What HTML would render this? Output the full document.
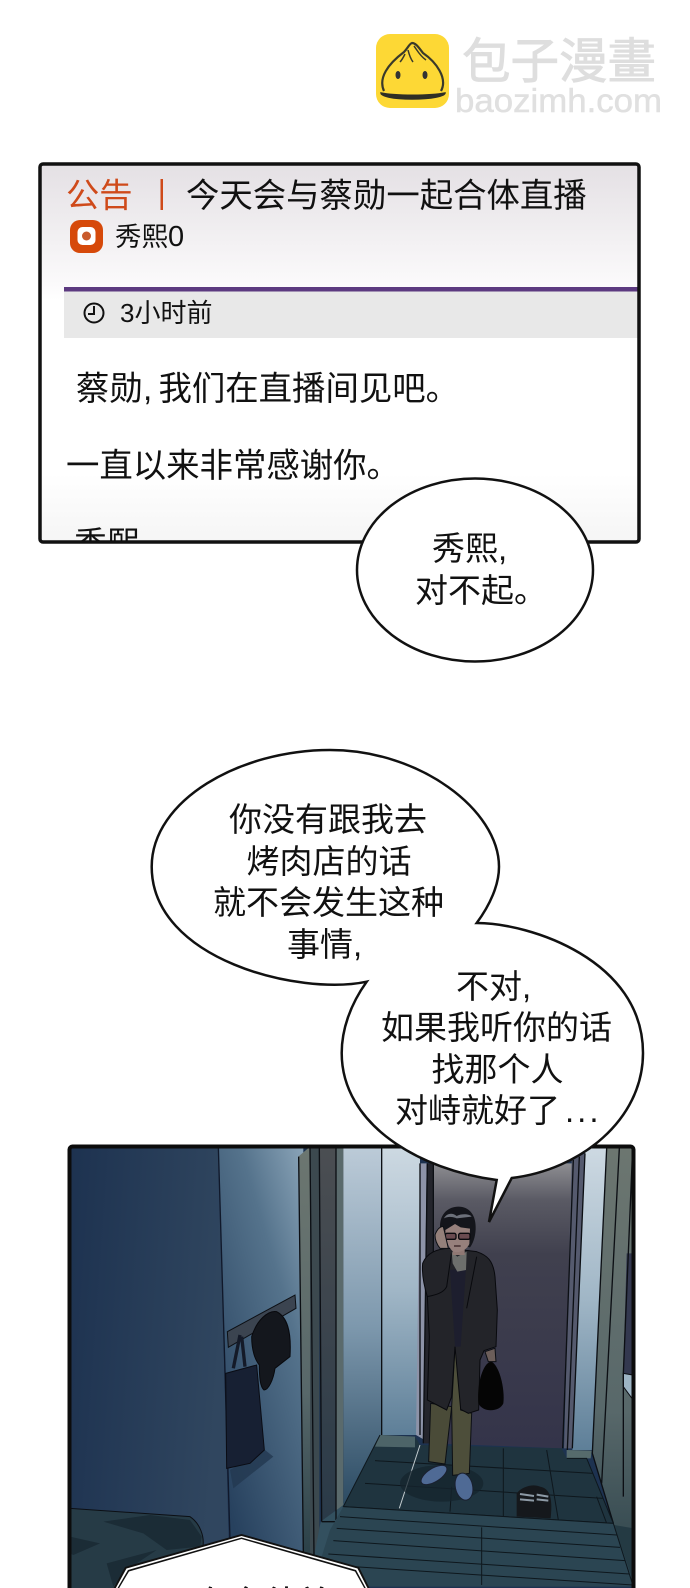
<!DOCTYPE html>
<html><head><meta charset="utf-8"><style>
html,body{margin:0;padding:0;background:#fff;width:690px;height:1588px;overflow:hidden}
svg{display:block}
text{font-family:"Liberation Sans","Noto Sans CJK SC",sans-serif;fill:#111}
</style></head><body>
<svg width="690" height="1588" viewBox="0 0 690 1588" xmlns="http://www.w3.org/2000/svg">
<defs>
<linearGradient id="pg" x1="0" y1="0" x2="0" y2="1"><stop offset="0" stop-color="#e4e0e4"/><stop offset=".32" stop-color="#fbfafb"/><stop offset=".36" stop-color="#fff"/><stop offset=".82" stop-color="#fff"/><stop offset="1" stop-color="#f5f5f5"/></linearGradient>
<linearGradient id="navy" x1="0" y1="0" x2="1" y2="0.2"><stop offset="0" stop-color="#1d3250"/><stop offset="1" stop-color="#30465f"/></linearGradient>
<linearGradient id="w2" x1="1" y1="0" x2="0.3" y2="1"><stop offset="0" stop-color="#8aa4b8"/><stop offset=".35" stop-color="#55738c"/><stop offset="1" stop-color="#27415e"/></linearGradient>
<linearGradient id="w3" x1="0" y1="0" x2="0" y2="1"><stop offset="0" stop-color="#bccbd8"/><stop offset=".5" stop-color="#7d98ad"/><stop offset="1" stop-color="#2b4a62"/></linearGradient>
<linearGradient id="w4" x1="0" y1="0" x2="0" y2="1"><stop offset="0" stop-color="#cdd9e2"/><stop offset=".5" stop-color="#a0b6c6"/><stop offset="1" stop-color="#5e7f98"/></linearGradient>
<linearGradient id="door" x1="0" y1="0" x2="0" y2="1"><stop offset="0" stop-color="#8e8e92"/><stop offset=".13" stop-color="#5a5a64"/><stop offset=".32" stop-color="#40404e"/><stop offset="1" stop-color="#34344a"/></linearGradient>
<linearGradient id="fr" x1="0" y1="0" x2="0" y2="1"><stop offset="0" stop-color="#6c7670"/><stop offset=".6" stop-color="#58686a"/><stop offset="1" stop-color="#2a4048"/></linearGradient>
<linearGradient id="fr2" x1="0" y1="0" x2="0" y2="1"><stop offset="0" stop-color="#4b4e52"/><stop offset="1" stop-color="#2a3a48"/></linearGradient>
<clipPath id="p1"><rect x="40" y="164" width="599" height="378" rx="3"/></clipPath>
<clipPath id="p2"><rect x="70" y="1147" width="563" height="441"/></clipPath>
</defs>

<!-- logo -->
<rect x="376" y="34" width="73" height="74" rx="14" fill="#fdd835"/>
<path d="M384 91C378 78 388 64 404 52C408 48 409 44 412 43C416 43 419 48 423 53C436 62 448 78 441 91" fill="none" stroke="#3a3a2a" stroke-width="2.200"/>
<path d="M408 50C409 54 410 58 413 62M414 46C417 50 420 56 426 60M405 54C403 58 402 60 400 62" fill="none" stroke="#3a3a2a" stroke-width="1.500"/>
<ellipse cx="398" cy="75" rx="2.500" ry="4" fill="#333"/><ellipse cx="425" cy="75" rx="2.500" ry="4" fill="#333"/>
<path d="M381 93C395 96 430 96 445 93C445 96 432 99 412 99C392 99 381 96 381 93Z" fill="#2f2f25" stroke="#2f2f25" stroke-width="1.500"/>
<text x="462" y="78" font-size="48.500" stroke="#dedede" stroke-width=".9" style="fill:#dedede">包子漫畫</text>
<text x="455" y="112" font-size="33" textLength="207" lengthAdjust="spacingAndGlyphs" stroke="#e0e0e0" stroke-width=".5" style="fill:#e0e0e0">baozimh.com</text>

<!-- notice panel -->
<rect x="40" y="164" width="599" height="378" rx="3" fill="url(#pg)"/>
<g clip-path="url(#p1)">
<text x="66" y="207" font-size="33.300" style="fill:#cf4a1a">公告</text>
<rect x="160.500" y="179" width="2.500" height="31" fill="#cf4a1a"/>
<text x="186" y="207" font-size="33.400">今天会与蔡勋一起合体直播</text>
<rect x="70" y="220" width="33" height="33" rx="10" fill="#d6490a"/>
<rect x="77.500" y="227" width="18" height="18" rx="5" fill="#fff"/>
<circle cx="86.500" cy="236" r="4.500" fill="#c95a2c"/>
<text x="115" y="246" font-size="26.500">秀熙<tspan font-size="29">0</tspan></text>
<rect x="64" y="291" width="577" height="47" fill="#e8e8e8"/>
<rect x="64" y="287" width="577" height="4.500" fill="#5c3a80"/>
<circle cx="94" cy="313" r="9.500" fill="none" stroke="#111" stroke-width="2"/>
<path d="M94 306V314H88" fill="none" stroke="#111" stroke-width="2"/>
<text x="120" y="322" font-size="26">3小时前</text>
<text x="76" y="400" font-size="33.400">蔡勋<tspan x="143">,</tspan><tspan x="158.500">我们在直播间见吧。</tspan></text>
<text x="66" y="477" font-size="33.400">一直以来非常感谢你。</text>
<text x="74" y="555" font-size="33">秀熙</text>
</g>
<rect x="40" y="164" width="599" height="378" rx="3" fill="none" stroke="#111" stroke-width="3.500"/>

<!-- bubble 1 -->
<ellipse cx="475" cy="570" rx="118" ry="91.500" fill="#fff" stroke="#111" stroke-width="2.500"/>
<text x="432" y="560" font-size="33">秀熙<tspan x="498">,</tspan></text>
<text x="415" y="602" font-size="33">对不起。</text>

<!-- scene panel -->
<rect x="69" y="1146" width="565" height="442" fill="#1d3250"/>
<g clip-path="url(#p2)">
<g transform="translate(60,1120) scale(.33333)">
<polygon points="30,80 475,80 510,1410 30,1410" fill="url(#navy)"/>
<polygon points="475,80 730,80 730,1320 510,1260" fill="url(#w2)"/>
<path d="M475 80L510 1260" stroke="#10182a" stroke-width="4" fill="none"/>
<polygon points="715,110 750,80 750,1310 730,1300" fill="url(#fr)"/>
<polygon points="750,80 778,80 778,1240 762,1310 750,1310" fill="#3c494f"/>
<polygon points="778,80 828,80 828,1170 785,1205" fill="url(#fr2)"/>
<polygon points="828,80 852,80 852,1150 828,1200" fill="#5a6a6c"/>
<polygon points="782,1205 850,1155 850,1190 790,1310 762,1310" fill="#33505f"/>
<path d="M716 110L730 1300M750 85L762 1310M778 85L785 1205M828 85V1200M852 85V1150M785 1205L830 1205" stroke="#0c0f14" stroke-width="4" fill="none"/>
<!-- coat rack, bag, cap -->
<polygon points="502,635 705,525 708,565 505,682" fill="#3b4450" stroke="#0c0f14" stroke-width="3"/>
<path d="M520 745L540 645M555 740L545 650" stroke="#141a28" stroke-width="10" fill="none"/>
<polygon points="510,1050 615,990 640,1010 520,1105" fill="#233850" opacity=".8"/>
<polygon points="497,760 590,735 613,990 570,1030 500,1045" fill="#172033" stroke="#0a0c14" stroke-width="3"/>
<path d="M575 650C590 600 625 570 650 575C680 590 695 630 690 710L645 745C640 780 625 810 612 810C600 800 598 770 598 735C585 720 575 690 575 650Z" fill="#14171d" stroke="#08090d" stroke-width="3"/>
<!-- cloth -->
<path d="M30 1165L390 1190C420 1210 435 1250 428 1285L200 1340L160 1410H30Z" fill="#263b46" stroke="#0c0f14" stroke-width="3"/>
<path d="M130 1205L270 1185L390 1200L425 1250L420 1280L320 1290L250 1240ZM30 1250L120 1270L40 1305L30 1300ZM140 1330L290 1290L200 1350L160 1400Z" fill="#1b2c36"/>
</g>
<g transform="translate(340,1120) scale(.33333)">
<polygon points="10,80 125,80 125,945 10,1160" fill="url(#w3)"/>
<polygon points="125,80 240,80 240,945 125,945" fill="url(#w4)"/>
<polygon points="240,130 262,130 262,965 228,945" fill="#8d93a8"/>
<polygon points="260,130 282,130 282,970 250,970" fill="#24252c"/>
<polygon points="280,130 700,130 668,985 280,970" fill="url(#door)"/>
<polygon points="695,120 735,100 698,985 672,985" fill="#555a6e"/>
<polygon points="735,85 800,85 757,990 697,990" fill="url(#w4)"/>
<path d="M125 80V945M240 130V945M262 130L250 970M280 130V970M700 120L668 985M718 110L682 990M735 100L697 985" stroke="#0c0f14" stroke-width="4" fill="none"/>
<!-- right side -->
<polygon points="800,85 880,85 880,1400 880,1400 820,1210 757,1000" fill="url(#fr)"/>
<polygon points="860,400 880,400 880,765 850,760" fill="#33384f"/>
<polygon points="850,760 878,765 878,838 850,800" fill="#9db4c4" stroke="#0c0f14" stroke-width="3"/>
<polygon points="822,1215 880,1225 880,1400 850,1400" fill="#243a43"/>
<path d="M800 85L757 1000L820 1210M838 85L785 1090M878 85L850 760V1130" stroke="#0c0f14" stroke-width="4" fill="none"/>
<!-- floor -->
<polygon points="120,945 225,950 240,975 665,985 680,1015 740,1015 820,1210 10,1160" fill="#1f343f"/>
<polygon points="120,945 225,950 225,982 105,980" fill="#4d6468"/>
<polygon points="680,990 755,992 752,1015 680,1015" fill="#566b6c"/>
<path d="M120 945L10 1160L820 1210L740 1015L680 1015M105 1022L760 1060M75 1090L790 1135M240 975L178 1165M335 1100L330 1175M490 985V1190M620 990L655 1200M770 1130L800 1210" stroke="#0e171d" stroke-width="3" fill="none"/>
<path d="M240 975L178 1165" stroke="#c3ced2" stroke-width="3" fill="none"/>
<!-- step -->
<polygon points="10,1160 820,1210 885,1400 60,1400 -55,1310 -30,1230" fill="#2b4552"/>
<path d="M10 1160L820 1210L880 1400M0 1190L830 1245M-10 1225L840 1282M-20 1262L855 1322M-35 1302L868 1362M40 1340L880 1395M425 1222V1395" stroke="#0e171d" stroke-width="3" fill="none"/>
<!-- shadows -->
<ellipse cx="305" cy="1090" rx="125" ry="55" fill="#16242d" opacity=".75"/>
<!-- man -->
<path d="M272 850L335 860L315 1032L266 1025Z" fill="#4a4b38" stroke="#0c0f14" stroke-width="3"/>
<path d="M345 680H368L362 870L395 880L388 1060L338 1066L335 860Z" fill="#4d4e3a" stroke="#0c0f14" stroke-width="3"/>
<ellipse cx="282" cy="1065" rx="44" ry="20" transform="rotate(-32 282 1065)" fill="#4f6a95" stroke="#1a2030" stroke-width="3"/>
<ellipse cx="372" cy="1100" rx="26" ry="41" transform="rotate(-12 372 1100)" fill="#4f6a95" stroke="#1a2030" stroke-width="3"/>
<path d="M248 430C260 400 290 385 330 385L410 395C440 405 460 420 465 470L472 570L468 680L432 692L420 720L416 870L385 880L362 868L345 680L335 830L320 870L262 840L268 650L262 530C250 490 245 460 248 430Z" fill="#232429" stroke="#08090d" stroke-width="3"/>
<polygon points="330,450 378,445 362,680 345,680" fill="#1d1e2e"/>
<path d="M262 530C285 525 310 520 320 500L335 395M410 410L380 565" stroke="#08090d" stroke-width="3" fill="none"/>
<polygon points="335,395 352,410 380,395 378,450 352,455 338,430" fill="#6d6f6c"/>
<rect x="338" y="375" width="36" height="30" fill="#8f7873"/>
<path d="M300 320C300 280 326 260 355 260C388 260 409 285 407 328C406 352 398 372 390 382L316 368C306 354 300 340 300 320Z" fill="#14151b"/>
<path d="M316 330L345 312L362 322L390 326L388 372C378 394 350 402 336 392C322 377 316 350 316 330Z" fill="#97807c"/>
<path d="M312 295C330 285 350 295 350 295L395 290C390 282 365 280 350 288C335 275 318 282 312 295Z" fill="#6c707a"/>
<rect x="316" y="340" width="32" height="18" rx="5" fill="#6a4b50" stroke="#0a0a0e" stroke-width="4"/>
<rect x="356" y="340" width="34" height="18" rx="5" fill="#6a4b50" stroke="#0a0a0e" stroke-width="4"/>
<path d="M342 378H362" stroke="#3a2426" stroke-width="4"/>
<path d="M285 345C290 330 300 318 310 320L325 385L300 385C292 375 285 360 285 345Z" fill="#94807a" stroke="#0c0f14" stroke-width="3"/>
<path d="M415 850C410 790 430 725 455 725C480 740 495 810 490 850C480 875 430 880 415 850Z" fill="#050505"/>
<path d="M435 695L465 685L468 725L445 725Z" fill="#6c5e5a" stroke="#0c0f14" stroke-width="3"/>
<!-- floor bag -->
<path d="M530 1190V1120C545 1100 580 1090 600 1100C625 1105 640 1125 632 1195Z" fill="#15181c"/>
<path d="M540 1122L582 1128M540 1138L582 1142M590 1124L625 1130M590 1138L625 1142" stroke="#8d9aa6" stroke-width="6" fill="none"/>
</g>
<!-- bottom bubble -->
<polygon points="241.500,1534 359,1567 373,1595 110,1595 125,1567" fill="#111"/>
<polygon points="241.500,1536 357.500,1568.500 371,1595 112,1595 126.500,1568.500" fill="#fff"/>
<polygon points="241.500,1537.500 356,1570 369.500,1595 113.500,1595 128,1570" fill="#111"/>
<polygon points="241.500,1539 355,1571.500 368,1595 115,1595 129,1571.500" fill="#fff"/>
<text x="168" y="1614" font-size="32.500" font-weight="500">那年各徒弟</text>
</g>
<rect x="69.500" y="1146.500" width="564" height="445" rx="3" fill="none" stroke="#0c0c0c" stroke-width="4"/>

<!-- double speech bubble -->
<path d="M476.700 923C530 923 643 960 643 1053C643 1120 580 1170 511.700 1178L489 1222L496.700 1180C420 1170 341.700 1125 341.700 1053C341.700 1030 350 1005 366.700 981.700C300 996 151.700 960 151.700 866.700C151.700 800 240 750 330 750C420 750 499 810 499 866.700C499 885 490 905 476.700 923Z" fill="#fff" stroke="#111" stroke-width="2.500" stroke-linejoin="miter"/>
<text x="229" y="831" font-size="33">你没有跟我去</text>
<text x="246.500" y="873" font-size="33">烤肉店的话</text>
<text x="213" y="914" font-size="33">就不会发生这种</text>
<text x="287" y="956" font-size="33">事情<tspan x="353">,</tspan></text>
<text x="456" y="998" font-size="33">不对<tspan x="522">,</tspan></text>
<text x="381" y="1039" font-size="33">如果我听你的话</text>
<text x="431.500" y="1081" font-size="33">找那个人</text>
<text x="395" y="1122" font-size="33">对峙就好了<tspan x="565" letter-spacing="3">...</tspan></text>
</svg>
</body></html>
